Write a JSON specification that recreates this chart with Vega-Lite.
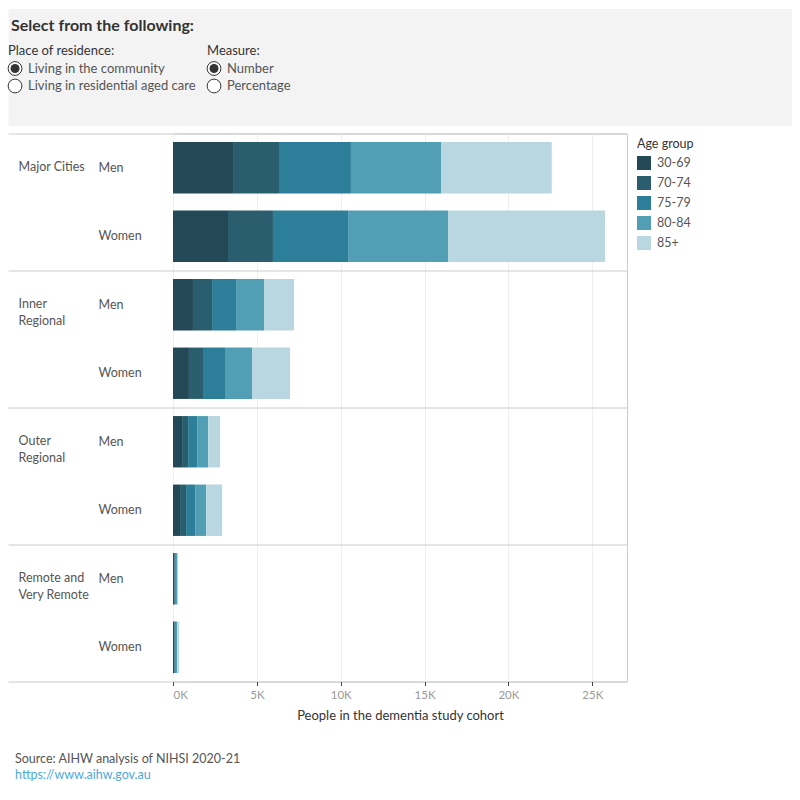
{
  "$schema": "https://vega.github.io/schema/vega-lite/v6.json",
  "padding": {"left": -51, "top": 8, "right": 5, "bottom": 5},
  "background": "white",
  "config": {
    "font": "Lato",
    "view": {"stroke": "#cccccc"},
    "concat": {"spacing": 6.5}
  },
  "title": {
    "text": "Source: AIHW analysis of NIHSI 2020-21",
    "subtitle": "https://www.aihw.gov.au",
    "orient": "bottom",
    "anchor": "start",
    "dx": 65.5,
    "offset": 30.5,
    "fontSize": 12.5,
    "fontWeight": "normal",
    "color": "#555555",
    "subtitleColor": "#4fa8d8",
    "subtitleFontSize": 12.5,
    "subtitlePadding": 3
  },
  "resolve": {"scale": {"color": "independent"}, "legend": {"color": "independent"}},
  "vconcat": [
    {
      "width": 619,
      "height": 117,
      "view": {"fill": "#f3f3f3", "stroke": null},
      "data": {"values": [
        {"col": 0, "row": 0, "kind": "title", "text": "Select from the following:", "selected": false},
        {"col": 0, "row": 1, "kind": "head", "text": "Place of residence:", "selected": false},
        {"col": 1, "row": 1, "kind": "head", "text": "Measure:", "selected": false},
        {"col": 0, "row": 2, "kind": "option", "text": "Living in the community", "selected": true},
        {"col": 0, "row": 3, "kind": "option", "text": "Living in residential aged care", "selected": false},
        {"col": 1, "row": 2, "kind": "option", "text": "Number", "selected": true},
        {"col": 1, "row": 3, "kind": "option", "text": "Percentage", "selected": false}
      ]},
      "encoding": {
        "x": {"field": "col", "type": "quantitative", "scale": {"domain": [0.829, 3.9397], "nice": false, "zero": false}, "axis": null},
        "y": {"field": "row", "type": "quantitative", "scale": {"domain": [-1.4, 5.2857], "nice": false, "zero": false, "reverse": true},
              "axis": {"orient": "left", "values": [1.94285], "labels": false, "domain": false, "grid": false, "ticks": true, "tickSize": 165, "tickWidth": 117, "tickColor": "#f3f3f3", "tickCap": "butt", "title": null, "zindex": 0}}
      },
      "layer": [
        {"transform": [{"filter": "datum.kind == 'title'"}],
         "mark": {"type": "text", "align": "left", "baseline": "middle", "fontSize": 16, "fontWeight": "bold", "color": "#333333", "dx": 3, "dy": -8},
         "encoding": {"text": {"field": "text"}}},
        {"transform": [{"filter": "datum.kind == 'head'"}],
         "mark": {"type": "text", "align": "left", "baseline": "middle", "fontSize": 13, "color": "#333333"},
         "encoding": {"text": {"field": "text"}}},
        {"transform": [{"filter": "datum.kind == 'option'"}],
         "mark": {"type": "text", "align": "left", "baseline": "middle", "fontSize": 13, "color": "#555555", "dx": 20},
         "encoding": {"text": {"field": "text"}}},
        {"transform": [{"filter": "datum.kind == 'option'"}],
         "mark": {"type": "point", "shape": "circle", "size": 190, "filled": true, "fill": "white", "stroke": "#333333", "strokeWidth": 1, "opacity": 1, "xOffset": 7},
         "encoding": {}},
        {"transform": [{"filter": "datum.kind == 'option' && datum.selected"}],
         "mark": {"type": "point", "shape": "circle", "size": 80, "filled": true, "color": "#333333", "opacity": 1, "xOffset": 7},
         "encoding": {}}
      ]
    },
    {
      "width": 454,
      "height": 548,
      "data": {"values": [
        {"region": "Major Cities", "sex": "Men", "row": "Major Cities|Men", "age": "30-69", "n": 3580},
        {"region": "Major Cities", "sex": "Men", "row": "Major Cities|Men", "age": "70-74", "n": 2740},
        {"region": "Major Cities", "sex": "Men", "row": "Major Cities|Men", "age": "75-79", "n": 4290},
        {"region": "Major Cities", "sex": "Men", "row": "Major Cities|Men", "age": "80-84", "n": 5370},
        {"region": "Major Cities", "sex": "Men", "row": "Major Cities|Men", "age": "85+", "n": 6600},
        {"region": "Major Cities", "sex": "Women", "row": "Major Cities|Women", "age": "30-69", "n": 3280},
        {"region": "Major Cities", "sex": "Women", "row": "Major Cities|Women", "age": "70-74", "n": 2680},
        {"region": "Major Cities", "sex": "Women", "row": "Major Cities|Women", "age": "75-79", "n": 4480},
        {"region": "Major Cities", "sex": "Women", "row": "Major Cities|Women", "age": "80-84", "n": 5960},
        {"region": "Major Cities", "sex": "Women", "row": "Major Cities|Women", "age": "85+", "n": 9360},
        {"region": "Inner Regional", "sex": "Men", "row": "Inner Regional|Men", "age": "30-69", "n": 1190},
        {"region": "Inner Regional", "sex": "Men", "row": "Inner Regional|Men", "age": "70-74", "n": 1140},
        {"region": "Inner Regional", "sex": "Men", "row": "Inner Regional|Men", "age": "75-79", "n": 1430},
        {"region": "Inner Regional", "sex": "Men", "row": "Inner Regional|Men", "age": "80-84", "n": 1670},
        {"region": "Inner Regional", "sex": "Men", "row": "Inner Regional|Men", "age": "85+", "n": 1790},
        {"region": "Inner Regional", "sex": "Women", "row": "Inner Regional|Women", "age": "30-69", "n": 950},
        {"region": "Inner Regional", "sex": "Women", "row": "Inner Regional|Women", "age": "70-74", "n": 840},
        {"region": "Inner Regional", "sex": "Women", "row": "Inner Regional|Women", "age": "75-79", "n": 1310},
        {"region": "Inner Regional", "sex": "Women", "row": "Inner Regional|Women", "age": "80-84", "n": 1610},
        {"region": "Inner Regional", "sex": "Women", "row": "Inner Regional|Women", "age": "85+", "n": 2270},
        {"region": "Outer Regional", "sex": "Men", "row": "Outer Regional|Men", "age": "30-69", "n": 540},
        {"region": "Outer Regional", "sex": "Men", "row": "Outer Regional|Men", "age": "70-74", "n": 360},
        {"region": "Outer Regional", "sex": "Men", "row": "Outer Regional|Men", "age": "75-79", "n": 540},
        {"region": "Outer Regional", "sex": "Men", "row": "Outer Regional|Men", "age": "80-84", "n": 660},
        {"region": "Outer Regional", "sex": "Men", "row": "Outer Regional|Men", "age": "85+", "n": 710},
        {"region": "Outer Regional", "sex": "Women", "row": "Outer Regional|Women", "age": "30-69", "n": 420},
        {"region": "Outer Regional", "sex": "Women", "row": "Outer Regional|Women", "age": "70-74", "n": 360},
        {"region": "Outer Regional", "sex": "Women", "row": "Outer Regional|Women", "age": "75-79", "n": 540},
        {"region": "Outer Regional", "sex": "Women", "row": "Outer Regional|Women", "age": "80-84", "n": 660},
        {"region": "Outer Regional", "sex": "Women", "row": "Outer Regional|Women", "age": "85+", "n": 950},
        {"region": "Remote and Very Remote", "sex": "Men", "row": "Remote and Very Remote|Men", "age": "30-69", "n": 70},
        {"region": "Remote and Very Remote", "sex": "Men", "row": "Remote and Very Remote|Men", "age": "70-74", "n": 40},
        {"region": "Remote and Very Remote", "sex": "Men", "row": "Remote and Very Remote|Men", "age": "75-79", "n": 60},
        {"region": "Remote and Very Remote", "sex": "Men", "row": "Remote and Very Remote|Men", "age": "80-84", "n": 70},
        {"region": "Remote and Very Remote", "sex": "Men", "row": "Remote and Very Remote|Men", "age": "85+", "n": 70},
        {"region": "Remote and Very Remote", "sex": "Women", "row": "Remote and Very Remote|Women", "age": "30-69", "n": 60},
        {"region": "Remote and Very Remote", "sex": "Women", "row": "Remote and Very Remote|Women", "age": "70-74", "n": 40},
        {"region": "Remote and Very Remote", "sex": "Women", "row": "Remote and Very Remote|Women", "age": "75-79", "n": 70},
        {"region": "Remote and Very Remote", "sex": "Women", "row": "Remote and Very Remote|Women", "age": "80-84", "n": 80},
        {"region": "Remote and Very Remote", "sex": "Women", "row": "Remote and Very Remote|Women", "age": "85+", "n": 120}
      ]},
      "layer": [
        {
          "mark": {"type": "bar"},
          "encoding": {
            "y": {"field": "row", "type": "nominal", "sort": null,
                  "scale": {"paddingInner": 0.25, "paddingOuter": 0.125},
                  "axis": {"title": null, "labelExpr": "split(datum.value, '|')[1]", "labelAlign": "left", "labelPadding": 75, "ticks": false, "tickSize": 0, "domain": false, "grid": false, "labelColor": "#555555", "labelFontSize": 12.5}},
            "x": {"field": "n", "type": "quantitative", "stack": "zero",
                  "scale": {"domain": [0, 27070], "nice": false},
                  "axis": {"title": "People in the dementia study cohort", "values": [0, 5000, 10000, 15000, 20000, 25000], "labelExpr": "datum.value / 1000 + 'K'", "grid": true, "gridColor": "#efefef", "domain": false, "ticks": true, "tickSize": 4, "tickColor": "#444444", "labelColor": "#999999", "labelFontSize": 11.5, "labelPadding": 4, "labelFlush": true, "titleColor": "#333333", "titleFontSize": 13, "titleFontWeight": "normal", "titlePadding": 8}},
            "color": {"field": "age", "type": "nominal",
                      "scale": {"domain": ["30-69", "70-74", "75-79", "80-84", "85+"], "range": ["#234856", "#2a5e6f", "#2d7e98", "#529eb5", "#b8d7e0"]},
                      "legend": {"title": "Age group", "orient": "right", "offset": 6, "padding": 4, "symbolType": "square", "symbolSize": 196, "symbolStrokeWidth": 0, "titleFontSize": 12.5, "titleFontWeight": "normal", "titleColor": "#333333", "titlePadding": 6, "labelFontSize": 12.5, "labelColor": "#555555", "labelOffset": 6, "rowPadding": 6}}
          }
        },
        {
          "mark": {"type": "rule", "opacity": 0},
          "encoding": {
            "y": {"field": "region", "type": "nominal", "sort": null,
                  "scale": {"type": "band", "paddingInner": 0, "paddingOuter": 0},
                  "axis": {"orient": "left", "title": null, "tickBand": "extent", "ticks": true, "tickSize": 165, "tickColor": "#cccccc", "grid": true, "gridColor": "#cccccc", "domain": false, "labelAlign": "left", "labelBaseline": "top", "labelPadding": -10, "labelOffset": -42, "labelLineHeight": 17, "labelColor": "#555555", "labelFontSize": 12.5, "labelExpr": "!datum.value ? '' : datum.value == 'Major Cities' ? 'Major Cities' : datum.value == 'Remote and Very Remote' ? ['Remote and', 'Very Remote'] : split(datum.value, ' ')"}}
          }
        }
      ],
      "resolve": {"scale": {"y": "independent"}, "axis": {"y": "independent"}}
    }
  ]
}
